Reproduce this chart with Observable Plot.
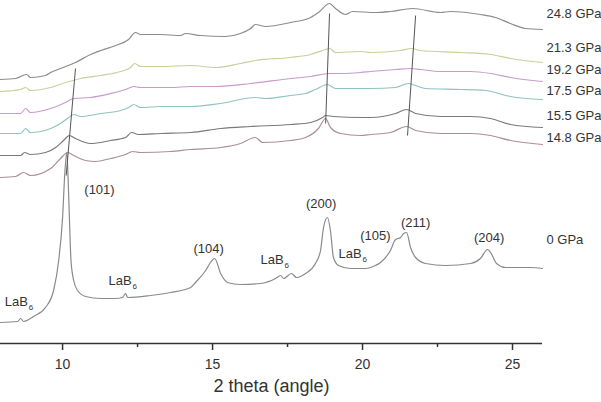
<!DOCTYPE html>
<html>
<head>
<meta charset="utf-8">
<script src="https://cdn.jsdelivr.net/npm/d3@7"></script>
<script src="https://cdn.jsdelivr.net/npm/@observablehq/plot@0.6"></script>
<style>
  html, body { margin: 0; padding: 0; background: #ffffff; }
  #chart svg { display: block; }
</style>
</head>
<body>
<div id="chart"></div>
<script>
// ---- Data (2 theta in degrees, intensity in arbitrary stacked units) ----
const pressures = ["24.8 GPa", "21.3 GPa", "19.2 GPa", "17.5 GPa", "15.5 GPa", "14.8 GPa", "0 GPa"];

const theta248 = [7.93, 8.43, 8.80, 8.93, 9.43, 9.60, 9.93, 10.43, 10.93, 11.27, 11.77, 12.20, 12.43, 12.60, 13.27, 13.93, 14.10, 14.60, 15.43, 15.93, 16.27, 16.43, 16.77, 17.60, 18.27, 18.53, 18.90, 19.10, 19.43, 19.67, 20.43, 20.93, 21.67, 22.60, 22.93, 23.93, 24.43, 24.93, 25.43, 26.00];
const int248   = [264, 265, 269, 266, 268, 271, 275, 281, 289, 293, 298, 304, 311, 309, 309, 308, 310, 308, 307, 310, 315, 319, 317, 321, 326, 331, 340, 335, 329, 332, 331, 332, 335, 331, 332, 329, 326, 320, 315, 314];

const theta213 = [7.93, 8.60, 8.77, 8.93, 9.60, 10.10, 10.60, 11.27, 11.93, 12.27, 12.40, 12.60, 13.27, 14.27, 15.10, 15.93, 16.43, 17.60, 18.27, 18.77, 18.90, 19.10, 19.93, 20.27, 21.27, 21.63, 21.93, 23.27, 24.27, 24.93, 26.00];
const int213   = [252, 254, 256, 253, 256, 261, 265, 268, 272, 276, 280, 277, 277, 278, 276, 280, 283, 286, 289, 294, 295, 291, 292, 291, 293, 295, 293, 291, 289, 285, 281];

const theta192 = [7.93, 8.60, 8.77, 8.93, 9.60, 10.10, 10.37, 10.93, 11.60, 12.10, 12.37, 12.60, 13.60, 14.27, 15.10, 16.27, 17.60, 18.27, 18.87, 19.27, 19.93, 20.27, 21.10, 21.63, 21.93, 22.60, 23.60, 24.27, 24.93, 26.00];
const int192   = [230, 230, 235, 231, 235, 241, 245, 246, 250, 254, 257, 256, 256, 257, 257, 260, 265, 267, 270, 270, 271, 272, 274, 275, 274, 272, 272, 270, 266, 262];

const theta175 = [7.93, 8.60, 8.77, 8.93, 9.60, 9.93, 10.20, 10.37, 10.60, 11.27, 11.93, 12.20, 12.37, 12.60, 13.27, 14.27, 15.27, 16.43, 16.77, 17.60, 18.10, 18.43, 18.83, 19.10, 19.93, 20.27, 21.10, 21.53, 21.77, 22.10, 23.27, 24.10, 24.93, 26.00];
const int175   = [210, 210, 215, 211, 215, 220, 226, 229, 227, 230, 233, 236, 239, 236, 237, 237, 240, 246, 245, 248, 250, 254, 259, 255, 255, 255, 256, 260, 258, 255, 254, 253, 247, 244];

const theta155 = [7.93, 8.60, 8.73, 8.93, 9.43, 9.77, 10.03, 10.23, 10.43, 10.93, 11.60, 12.10, 12.30, 12.53, 13.27, 14.27, 15.27, 16.27, 17.60, 18.27, 18.67, 18.77, 19.03, 19.93, 20.27, 21.10, 21.47, 21.77, 22.60, 23.60, 24.27, 24.93, 26.00];
const int155   = [188, 188, 191, 189, 191, 196, 203, 208, 205, 200, 203, 206, 211, 209, 210, 211, 215, 217, 219, 221, 226, 228, 227, 226, 226, 230, 234, 230, 227, 227, 225, 219, 216];

const theta148 = [7.93, 8.43, 8.70, 8.93, 9.60, 9.93, 10.17, 10.37, 10.77, 11.10, 11.60, 12.10, 12.33, 12.60, 13.60, 14.27, 15.27, 15.93, 16.43, 16.67, 17.60, 18.10, 18.53, 18.77, 18.93, 19.27, 19.93, 20.27, 20.93, 21.47, 21.77, 22.60, 23.60, 24.27, 24.93, 26.00];
const int148   = [166, 167, 171, 168, 175, 185, 191, 188, 183, 182, 185, 189, 192, 191, 192, 194, 196, 200, 206, 201, 203, 206, 215, 225, 216, 210, 208, 209, 211, 217, 213, 210, 210, 208, 203, 199];

const theta0 = [7.93, 8.50, 8.60, 8.70, 9.03, 9.43, 9.70, 9.87, 10.00, 10.07, 10.14, 10.18, 10.23, 10.28, 10.37, 10.50, 10.77, 11.27, 11.77, 12.00, 12.10, 12.17, 12.93, 13.60, 14.27, 14.43, 14.77, 14.93, 15.07, 15.27, 15.50, 15.93, 16.60, 17.10, 17.27, 17.37, 17.63, 17.80, 18.10, 18.43, 18.60, 18.70, 18.83, 18.93, 19.03, 19.20, 19.60, 20.10, 20.43, 20.60, 20.93, 21.10, 21.27, 21.37, 21.47, 21.60, 21.77, 22.10, 22.77, 23.60, 23.93, 24.17, 24.27, 24.47, 24.77, 25.60, 26.00];
const int0   = [21, 22, 25, 22, 27, 36, 53, 83, 126, 168, 191, 168, 123, 83, 63, 53, 47, 45, 45, 46, 50, 46, 48, 51, 56, 61, 73, 81, 85, 70, 61, 59, 60, 65, 68, 65, 70, 66, 70, 80, 93, 116, 126, 113, 86, 78, 75, 75, 78, 81, 93, 104, 106, 110, 111, 96, 86, 80, 78, 80, 85, 94, 91, 80, 76, 76, 75];

// hand-drawn peak-shift guide lines (start / end in 2theta, intensity)
const guideNames = ["(101)", "(200)", "(211)"];
const guideTheta1 = [10.12, 18.77, 21.50];
const guideInt1   = [168, 220, 208];
const guideTheta2 = [10.43, 18.90, 21.77];
const guideInt2   = [275, 330, 328];

// peak annotations
const peakLabels = ["(101)", "(104)", "(200)", "(105)", "(211)", "(204)"];
const peakTheta  = [11.23, 14.87, 18.62, 20.43, 21.77, 24.22];
const peakInt    = [154, 95, 140, 108, 121, 106];

// LaB6 calibrant annotations
const lab6Theta = [8.07, 11.53, 16.60, 19.20];
const lab6Int   = [42, 63, 84, 90];

// pressure labels at right
const pressureLabelInt = [330, 296, 274, 253, 228, 206, 104];

// axis ticks
const majorTicks = [10, 15, 20, 25];
const minorTicks = [12.5, 17.5, 22.5];
const xLabel = "2 theta (angle)";

// ---- Styles ----
const seriesColors = ["#8c8c8c", "#c9cf9b", "#c89bc9", "#90c4be", "#7a7a7a", "#ab8f95", "#8a8a8a"];
const textColor = "#333333";
const font = "'Liberation Sans', Arial, Helvetica, sans-serif";

const series = [
  [theta248, int248], [theta213, int213], [theta192, int192], [theta175, int175],
  [theta155, int155], [theta148, int148], [theta0, int0]
];

const lineMarks = series.map(([t, v], i) =>
  Plot.line(t.map((x, j) => ({x, y: v[j]})), {
    x: "x", y: "y", stroke: seriesColors[i], strokeWidth: 1.2, curve: "monotone-x"
  })
);

const guides = guideNames.map((n, i) => ({x1: guideTheta1[i], y1: guideInt1[i], x2: guideTheta2[i], y2: guideInt2[i]}));
const peaks = peakLabels.map((l, i) => ({l, x: peakTheta[i], y: peakInt[i]}));
const labs = lab6Theta.map((x, i) => ({x, y: lab6Int[i]}));
const plabels = pressures.map((p, i) => ({p, y: pressureLabelInt[i]}));

const chart = Plot.plot({
  width: 601,
  height: 402,
  marginLeft: 0,
  marginRight: 59,
  marginTop: 0,
  marginBottom: 59,
  style: {fontFamily: font, background: "#ffffff", overflow: "visible"},
  x: {domain: [7.93, 26]},
  y: {domain: [0, 343], axis: null},
  marks: [
    ...lineMarks,
    Plot.link(guides, {x1: "x1", y1: "y1", x2: "x2", y2: "y2", stroke: "#555", strokeWidth: 1}),
    Plot.text(peaks, {x: "x", y: "y", text: "l", fontSize: 13, fill: textColor}),
    Plot.text(labs, {x: "x", y: "y", text: () => "LaB", fontSize: 13, fill: textColor, textAnchor: "start"}),
    Plot.text(labs, {x: "x", y: "y", text: () => "6", fontSize: 8, fill: textColor, textAnchor: "start", dx: 24, dy: 6}),
    Plot.text(plabels, {x: () => 26, y: "y", text: "p", fontSize: 13, fill: textColor, textAnchor: "start", dx: 4}),
    Plot.ruleY([0], {stroke: "#333", strokeWidth: 1.6}),
    Plot.axisX(majorTicks, {tickSize: 7, tickPadding: 9, fontSize: 14, stroke: "#333", strokeWidth: 1.5, fill: textColor, label: null, tickFormat: d => String(d)}),
    Plot.axisX(minorTicks, {tickSize: 4, strokeWidth: 1.5, stroke: "#333", tickFormat: () => "", label: null}),
    Plot.text([xLabel], {frameAnchor: "bottom", text: d => d, lineAnchor: "middle", dy: 43, fontSize: 18, fill: textColor})
  ]
});
document.getElementById("chart").appendChild(chart);
</script>
</body>
</html>
